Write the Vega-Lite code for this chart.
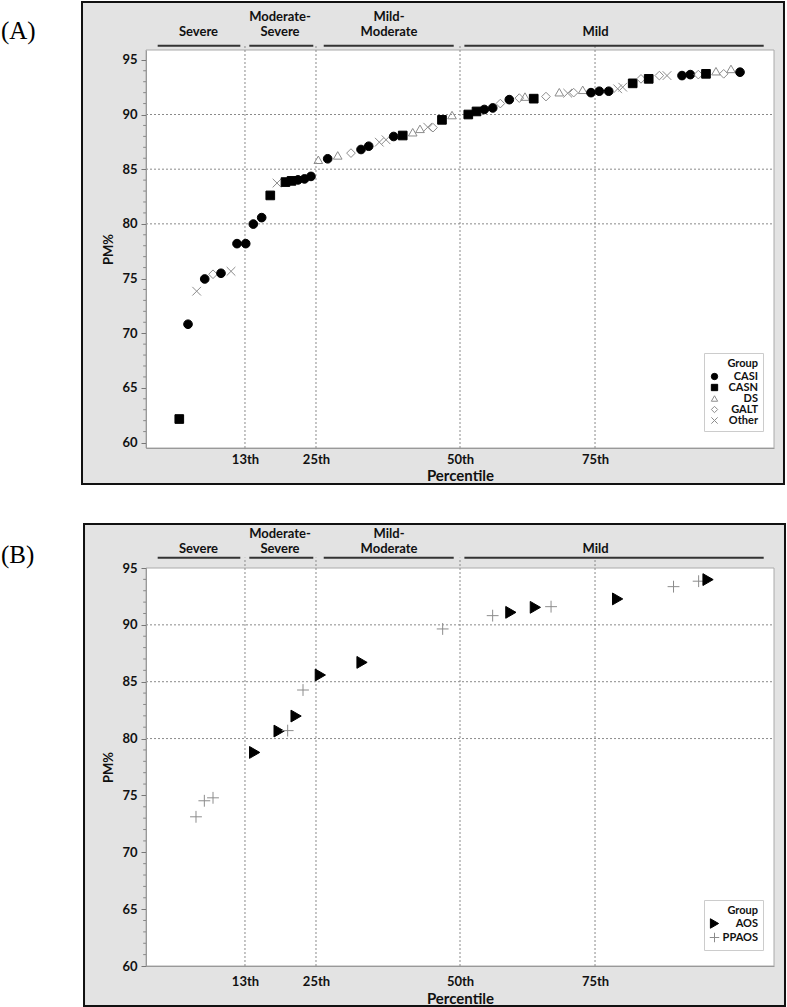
{
  "$schema": "https://vega.github.io/schema/vega-lite/v6.json",
  "padding": {"left": 0, "top": 1, "right": 0, "bottom": 0},
  "background": "white",
  "spacing": 37,
  "config": {
    "view": {"stroke": null},
    "font": "Lato",
    "axis": {"zindex": 1, "labelOverlap": false, "grid": false, "domainColor": "#999999", "labelFontWeight": "bold", "labelColor": "#111111", "titleFontWeight": "bold", "titleColor": "#111111", "labelFlush": false, "labelBound": false},
    "axisX": {"ticks": false, "labelFontSize": 13, "titleFontSize": 15},
    "axisY": {"tickColor": "#777777", "tickSize": 5, "labelFontSize": 13, "titleFontSize": 13, "labelPadding": 4, "titlePadding": 6},
    "legend": {
      "fillColor": "white", "strokeColor": "#cccccc", "padding": 5,
      "titleFontSize": 11, "titleFontWeight": "bold", "titleColor": "#111", "titleAnchor": "end", "titlePadding": 2,
      "labelFontSize": 11, "labelFontWeight": "bold", "labelColor": "#111", "labelAlign": "right", "labelOffset": 38,
      "symbolSize": 40, "rowPadding": -1, "symbolStrokeWidth": 1
    }
  },
  "datasets": {
    "one": [{}],
    "bands": [
      {"top": "", "bottom": "Severe", "mid": 8.36, "from": 1.86, "to": 15.02},
      {"top": "Moderate-", "bottom": "Severe", "mid": 21.34, "from": 16.45, "to": 26.64},
      {"top": "Mild-", "bottom": "Moderate", "mid": 38.7, "from": 28.3, "to": 49.0},
      {"top": "", "bottom": "Mild", "mid": 71.6, "from": 50.7, "to": 98.36}
    ],
    "vgrid": [{"p": 15.76}, {"p": 27.07}, {"p": 50.0}, {"p": 71.5}],
    "hgrid": [{"v": 80}, {"v": 85}, {"v": 90}],
    "minor": [
      {"m": 61}, {"m": 62}, {"m": 63}, {"m": 64}, {"m": 66}, {"m": 67}, {"m": 68}, {"m": 69},
      {"m": 71}, {"m": 72}, {"m": 73}, {"m": 74}, {"m": 76}, {"m": 77}, {"m": 78}, {"m": 79},
      {"m": 81}, {"m": 82}, {"m": 83}, {"m": 84}, {"m": 86}, {"m": 87}, {"m": 88}, {"m": 89},
      {"m": 91}, {"m": 92}, {"m": 93}, {"m": 94}
    ],
    "ptsA": [
      {"x": 5.30, "pm": 62.15, "group": "CASN"},
      {"x": 6.69, "pm": 70.82, "group": "CASI"},
      {"x": 8.07, "pm": 73.84, "group": "Other"},
      {"x": 9.35, "pm": 74.96, "group": "CASI"},
      {"x": 10.67, "pm": 75.39, "group": "GALT"},
      {"x": 11.94, "pm": 75.48, "group": "CASI"},
      {"x": 13.54, "pm": 75.66, "group": "Other"},
      {"x": 14.49, "pm": 78.19, "group": "CASI"},
      {"x": 15.88, "pm": 78.19, "group": "CASI"},
      {"x": 17.09, "pm": 79.98, "group": "CASI"},
      {"x": 18.42, "pm": 80.57, "group": "CASI"},
      {"x": 19.79, "pm": 82.6, "group": "CASN"},
      {"x": 20.86, "pm": 83.73, "group": "Other"},
      {"x": 22.21, "pm": 83.82, "group": "CASN"},
      {"x": 23.17, "pm": 83.93, "group": "CASN"},
      {"x": 24.2, "pm": 84.02, "group": "CASI"},
      {"x": 25.24, "pm": 84.11, "group": "CASI"},
      {"x": 26.27, "pm": 84.34, "group": "CASI"},
      {"x": 27.44, "pm": 85.86, "group": "DS"},
      {"x": 28.93, "pm": 85.95, "group": "CASI"},
      {"x": 30.53, "pm": 86.26, "group": "DS"},
      {"x": 32.64, "pm": 86.47, "group": "GALT"},
      {"x": 34.24, "pm": 86.8, "group": "CASI"},
      {"x": 35.46, "pm": 87.1, "group": "CASI"},
      {"x": 37.15, "pm": 87.47, "group": "Other"},
      {"x": 38.22, "pm": 87.69, "group": "Other"},
      {"x": 39.44, "pm": 87.99, "group": "CASI"},
      {"x": 40.88, "pm": 88.08, "group": "CASN"},
      {"x": 42.47, "pm": 88.38, "group": "DS"},
      {"x": 43.63, "pm": 88.69, "group": "DS"},
      {"x": 44.86, "pm": 88.84, "group": "Other"},
      {"x": 45.7, "pm": 88.8, "group": "GALT"},
      {"x": 47.13, "pm": 89.51, "group": "CASN"},
      {"x": 48.73, "pm": 89.95, "group": "DS"},
      {"x": 51.32, "pm": 90.0, "group": "CASN"},
      {"x": 52.63, "pm": 90.28, "group": "CASN"},
      {"x": 53.87, "pm": 90.46, "group": "CASI"},
      {"x": 55.21, "pm": 90.6, "group": "CASI"},
      {"x": 56.42, "pm": 91.0, "group": "GALT"},
      {"x": 57.85, "pm": 91.36, "group": "CASI"},
      {"x": 59.44, "pm": 91.5, "group": "GALT"},
      {"x": 60.35, "pm": 91.64, "group": "DS"},
      {"x": 61.74, "pm": 91.45, "group": "CASN"},
      {"x": 63.69, "pm": 91.64, "group": "GALT"},
      {"x": 65.81, "pm": 92.04, "group": "DS"},
      {"x": 67.15, "pm": 91.95, "group": "Other"},
      {"x": 68.1, "pm": 92.0, "group": "GALT"},
      {"x": 69.54, "pm": 92.26, "group": "DS"},
      {"x": 70.86, "pm": 92.0, "group": "CASI"},
      {"x": 72.18, "pm": 92.13, "group": "CASI"},
      {"x": 73.68, "pm": 92.13, "group": "CASI"},
      {"x": 75.11, "pm": 92.35, "group": "Other"},
      {"x": 75.91, "pm": 92.5, "group": "Other"},
      {"x": 77.5, "pm": 92.85, "group": "CASN"},
      {"x": 78.82, "pm": 93.26, "group": "GALT"},
      {"x": 80.05, "pm": 93.26, "group": "CASN"},
      {"x": 81.74, "pm": 93.56, "group": "GALT"},
      {"x": 82.96, "pm": 93.56, "group": "Other"},
      {"x": 85.35, "pm": 93.56, "group": "CASI"},
      {"x": 86.67, "pm": 93.65, "group": "CASI"},
      {"x": 87.95, "pm": 93.65, "group": "GALT"},
      {"x": 89.17, "pm": 93.72, "group": "CASN"},
      {"x": 90.76, "pm": 93.96, "group": "DS"},
      {"x": 91.99, "pm": 93.72, "group": "GALT"},
      {"x": 93.15, "pm": 94.17, "group": "DS"},
      {"x": 94.59, "pm": 93.87, "group": "CASI"}
    ],
    "ptsB": [
      {"x": 7.96, "pm": 73.12, "group": "PPAOS"},
      {"x": 9.29, "pm": 74.53, "group": "PPAOS"},
      {"x": 10.67, "pm": 74.79, "group": "PPAOS"},
      {"x": 17.3, "pm": 78.78, "group": "AOS"},
      {"x": 21.2, "pm": 80.66, "group": "AOS"},
      {"x": 22.56, "pm": 80.7, "group": "PPAOS"},
      {"x": 23.9, "pm": 81.98, "group": "AOS"},
      {"x": 25.0, "pm": 84.27, "group": "PPAOS"},
      {"x": 27.76, "pm": 85.59, "group": "AOS"},
      {"x": 34.4, "pm": 86.7, "group": "AOS"},
      {"x": 47.24, "pm": 89.64, "group": "PPAOS"},
      {"x": 55.2, "pm": 90.81, "group": "PPAOS"},
      {"x": 58.1, "pm": 91.1, "group": "AOS"},
      {"x": 62.0, "pm": 91.54, "group": "AOS"},
      {"x": 64.5, "pm": 91.6, "group": "PPAOS"},
      {"x": 75.1, "pm": 92.28, "group": "AOS"},
      {"x": 84.0, "pm": 93.36, "group": "PPAOS"},
      {"x": 88.0, "pm": 93.84, "group": "PPAOS"},
      {"x": 89.5, "pm": 93.98, "group": "AOS"}
    ]
  },
  "resolve": {"scale": {"x": "independent", "y": "independent", "shape": "independent", "fill": "independent", "stroke": "independent"}},
  "vconcat": [
    {
      "width": 628,
      "height": 398,
      "layer": [
        {
          "data": {"name": "one"},
          "mark": {"type": "rect", "fill": "#e3e3e3", "stroke": "#111", "strokeWidth": 2},
          "encoding": {
            "x": {"datum": -10.19, "type": "quantitative", "scale": {"domain": [0, 100], "nice": false, "zero": false}},
            "x2": {"datum": 101.59},
            "y": {"datum": 56.21, "type": "quantitative", "scale": {"domain": [59.5, 95.9], "nice": false, "zero": false}},
            "y2": {"datum": 100.28}
          }
        },
        {
          "data": {"name": "one"},
          "mark": {"type": "rect", "fill": "white", "stroke": "#aaaaaa", "strokeWidth": 1},
          "encoding": {
            "x": {"datum": 0, "type": "quantitative"},
            "x2": {"datum": 100},
            "y": {"datum": 59.5, "type": "quantitative"},
            "y2": {"datum": 95.9}
          }
        },
        {
          "data": {"name": "minor"},
          "mark": {"type": "rule", "stroke": "#888888", "strokeWidth": 1},
          "encoding": {
            "y": {"field": "m", "type": "quantitative"},
            "x": {"datum": -0.45, "type": "quantitative"},
            "x2": {"datum": 0}
          }
        },
        {
          "data": {"name": "hgrid"},
          "mark": {"type": "rule", "stroke": "#8a8a8a", "strokeWidth": 1, "strokeDash": [2, 2]},
          "encoding": {
            "y": {"field": "v", "type": "quantitative"},
            "x": {"datum": 0, "type": "quantitative"},
            "x2": {"datum": 100}
          }
        },
        {
          "data": {"name": "vgrid"},
          "mark": {"type": "rule", "stroke": "#8a8a8a", "strokeWidth": 1, "strokeDash": [2, 2]},
          "encoding": {
            "x": {"field": "p", "type": "quantitative"},
            "y": {"datum": 59.5, "type": "quantitative"},
            "y2": {"datum": 96.29}
          }
        },
        {
          "data": {"name": "bands"},
          "mark": {"type": "rule", "stroke": "#333333", "strokeWidth": 2},
          "encoding": {
            "x": {"field": "from", "type": "quantitative"},
            "x2": {"field": "to"},
            "y": {"datum": 96.29, "type": "quantitative"}
          }
        },
        {
          "data": {"name": "bands"},
          "mark": {"type": "text", "font": "Lato", "fontSize": 13, "fontWeight": "bold", "baseline": "alphabetic", "align": "center", "color": "#111"},
          "encoding": {
            "x": {"field": "mid", "type": "quantitative"},
            "y": {"datum": 98.55, "type": "quantitative"},
            "text": {"field": "top"}
          }
        },
        {
          "data": {"name": "bands"},
          "mark": {"type": "text", "font": "Lato", "fontSize": 13, "fontWeight": "bold", "baseline": "alphabetic", "align": "center", "color": "#111"},
          "encoding": {
            "x": {"field": "mid", "type": "quantitative"},
            "y": {"datum": 97.18, "type": "quantitative"},
            "text": {"field": "bottom"}
          }
        },
        {
          "data": {"values": [{"t": "(A)"}]},
          "mark": {"type": "text", "font": "Liberation Serif", "fontSize": 25, "align": "left", "baseline": "middle", "color": "black"},
          "encoding": {
            "x": {"datum": -23.1, "type": "quantitative"},
            "y": {"datum": 97.64, "type": "quantitative"},
            "text": {"field": "t"}
          }
        },
        {
          "data": {"name": "ptsA"},
          "mark": {"type": "point", "size": 75, "strokeWidth": 1, "opacity": 1},
          "encoding": {
            "x": {
              "field": "x", "type": "quantitative",
              "scale": {"domain": [0, 100], "nice": false, "zero": false},
              "axis": {
                "title": "Percentile", "values": [15.76, 27.07, 50, 71.5],
                "labelExpr": "datum.value < 20 ? '13th' : datum.value < 40 ? '25th' : datum.value < 60 ? '50th' : '75th'",
                "ticks": false, "domainColor": "#999999",
                "labelFont": "Lato", "labelFontSize": 13, "labelFontWeight": "bold", "labelColor": "#111111",
                "titleFont": "Lato", "titleFontSize": 15, "titleFontWeight": "bold", "titleColor": "#111111",
                "labelPadding": 5, "titlePadding": 2, "zindex": 1, "labelOverlap": false
              }
            },
            "y": {
              "field": "pm", "type": "quantitative",
              "scale": {"domain": [59.5, 95.9], "nice": false, "zero": false},
              "axis": {
                "title": "PM%",
                "values": [60, 65, 70, 75, 80, 85, 90, 95],
                "tickSize": 5, "tickColor": "#777777", "domainColor": "#999999",
                "labelFont": "Lato", "labelFontSize": 13, "labelFontWeight": "bold", "labelColor": "#111111", "labelPadding": 4,
                "titleFont": "Lato", "titleFontSize": 13, "titleFontWeight": "bold", "titleColor": "#111111", "titlePadding": 6,
                "zindex": 1, "labelOverlap": false
              }
            },
            "shape": {
              "field": "group", "type": "nominal",
              "scale": {"domain": ["CASI", "CASN", "DS", "GALT", "Other"], "range": ["circle", "square", "triangle-up", "diamond", "M-1,-1L1,1M-1,1L1,-1"]},
              "legend": {"title": "Group", "orient": "none", "legendX": 558, "legendY": 303}
            },
            "fill": {
              "field": "group", "type": "nominal",
              "scale": {"domain": ["CASI", "CASN", "DS", "GALT", "Other"], "range": ["black", "black", "transparent", "transparent", "transparent"]},
              "legend": {"title": "Group", "orient": "none", "legendX": 558, "legendY": 303}
            },
            "stroke": {
              "field": "group", "type": "nominal",
              "scale": {"domain": ["CASI", "CASN", "DS", "GALT", "Other"], "range": ["black", "black", "#8c8c8c", "#8c8c8c", "#8c8c8c"]},
              "legend": {"title": "Group", "orient": "none", "legendX": 558, "legendY": 303}
            }
          }
        }
      ]
    },
    {
      "width": 628,
      "height": 398,
      "layer": [
        {
          "data": {"name": "one"},
          "mark": {"type": "rect", "fill": "#e3e3e3", "stroke": "#111", "strokeWidth": 2},
          "encoding": {
            "x": {"datum": -9.87, "type": "quantitative", "scale": {"domain": [0, 100], "nice": false, "zero": false}},
            "x2": {"datum": 101.75},
            "y": {"datum": 56.48, "type": "quantitative", "scale": {"domain": [60, 95], "nice": false, "zero": false}},
            "y2": {"datum": 98.87}
          }
        },
        {
          "data": {"name": "one"},
          "mark": {"type": "rect", "fill": "white", "stroke": "#aaaaaa", "strokeWidth": 1},
          "encoding": {
            "x": {"datum": 0, "type": "quantitative"},
            "x2": {"datum": 100},
            "y": {"datum": 60, "type": "quantitative"},
            "y2": {"datum": 95}
          }
        },
        {
          "data": {"name": "minor"},
          "mark": {"type": "rule", "stroke": "#888888", "strokeWidth": 1},
          "encoding": {
            "y": {"field": "m", "type": "quantitative"},
            "x": {"datum": -0.45, "type": "quantitative"},
            "x2": {"datum": 0}
          }
        },
        {
          "data": {"name": "hgrid"},
          "mark": {"type": "rule", "stroke": "#8a8a8a", "strokeWidth": 1, "strokeDash": [2, 2]},
          "encoding": {
            "y": {"field": "v", "type": "quantitative"},
            "x": {"datum": 0, "type": "quantitative"},
            "x2": {"datum": 100}
          }
        },
        {
          "data": {"name": "vgrid"},
          "mark": {"type": "rule", "stroke": "#8a8a8a", "strokeWidth": 1, "strokeDash": [2, 2]},
          "encoding": {
            "x": {"field": "p", "type": "quantitative"},
            "y": {"datum": 60, "type": "quantitative"},
            "y2": {"datum": 95.91}
          }
        },
        {
          "data": {"name": "bands"},
          "mark": {"type": "rule", "stroke": "#333333", "strokeWidth": 2},
          "encoding": {
            "x": {"field": "from", "type": "quantitative"},
            "x2": {"field": "to"},
            "y": {"datum": 95.91, "type": "quantitative"}
          }
        },
        {
          "data": {"name": "bands"},
          "mark": {"type": "text", "font": "Lato", "fontSize": 13, "fontWeight": "bold", "baseline": "alphabetic", "align": "center", "color": "#111"},
          "encoding": {
            "x": {"field": "mid", "type": "quantitative"},
            "y": {"datum": 97.67, "type": "quantitative"},
            "text": {"field": "top"}
          }
        },
        {
          "data": {"name": "bands"},
          "mark": {"type": "text", "font": "Lato", "fontSize": 13, "fontWeight": "bold", "baseline": "alphabetic", "align": "center", "color": "#111"},
          "encoding": {
            "x": {"field": "mid", "type": "quantitative"},
            "y": {"datum": 96.35, "type": "quantitative"},
            "text": {"field": "bottom"}
          }
        },
        {
          "data": {"values": [{"t": "(B)"}]},
          "mark": {"type": "text", "font": "Liberation Serif", "fontSize": 25, "align": "left", "baseline": "middle", "color": "black"},
          "encoding": {
            "x": {"datum": -23.1, "type": "quantitative"},
            "y": {"datum": 96.14, "type": "quantitative"},
            "text": {"field": "t"}
          }
        },
        {
          "data": {"name": "ptsB"},
          "mark": {"type": "point", "size": 140, "strokeWidth": 1, "opacity": 1},
          "encoding": {
            "x": {
              "field": "x", "type": "quantitative",
              "scale": {"domain": [0, 100], "nice": false, "zero": false},
              "axis": {
                "title": "Percentile", "values": [15.76, 27.07, 50, 71.5],
                "labelExpr": "datum.value < 20 ? '13th' : datum.value < 40 ? '25th' : datum.value < 60 ? '50th' : '75th'",
                "ticks": false, "domainColor": "#999999",
                "labelFont": "Lato", "labelFontSize": 13, "labelFontWeight": "bold", "labelColor": "#111111",
                "titleFont": "Lato", "titleFontSize": 15, "titleFontWeight": "bold", "titleColor": "#111111",
                "labelPadding": 9, "titlePadding": 3, "zindex": 1, "labelOverlap": false
              }
            },
            "y": {
              "field": "pm", "type": "quantitative",
              "scale": {"domain": [60, 95], "nice": false, "zero": false},
              "axis": {
                "title": "PM%",
                "values": [60, 65, 70, 75, 80, 85, 90, 95],
                "tickSize": 5, "tickColor": "#777777", "domainColor": "#999999",
                "labelFont": "Lato", "labelFontSize": 13, "labelFontWeight": "bold", "labelColor": "#111111", "labelPadding": 4,
                "titleFont": "Lato", "titleFontSize": 13, "titleFontWeight": "bold", "titleColor": "#111111", "titlePadding": 6,
                "zindex": 1, "labelOverlap": false
              }
            },
            "shape": {
              "field": "group", "type": "nominal",
              "scale": {"domain": ["AOS", "PPAOS"], "range": ["triangle-right", "M-1,0L1,0M0,-1L0,1"]},
              "legend": {"title": "Group", "orient": "none", "legendX": 558, "legendY": 332, "symbolSize": 90}
            },
            "fill": {
              "field": "group", "type": "nominal",
              "scale": {"domain": ["AOS", "PPAOS"], "range": ["black", "transparent"]},
              "legend": {"title": "Group", "orient": "none", "legendX": 558, "legendY": 332, "symbolSize": 90}
            },
            "stroke": {
              "field": "group", "type": "nominal",
              "scale": {"domain": ["AOS", "PPAOS"], "range": ["black", "#8c8c8c"]},
              "legend": {"title": "Group", "orient": "none", "legendX": 558, "legendY": 332, "symbolSize": 90}
            }
          }
        }
      ]
    }
  ]
}
